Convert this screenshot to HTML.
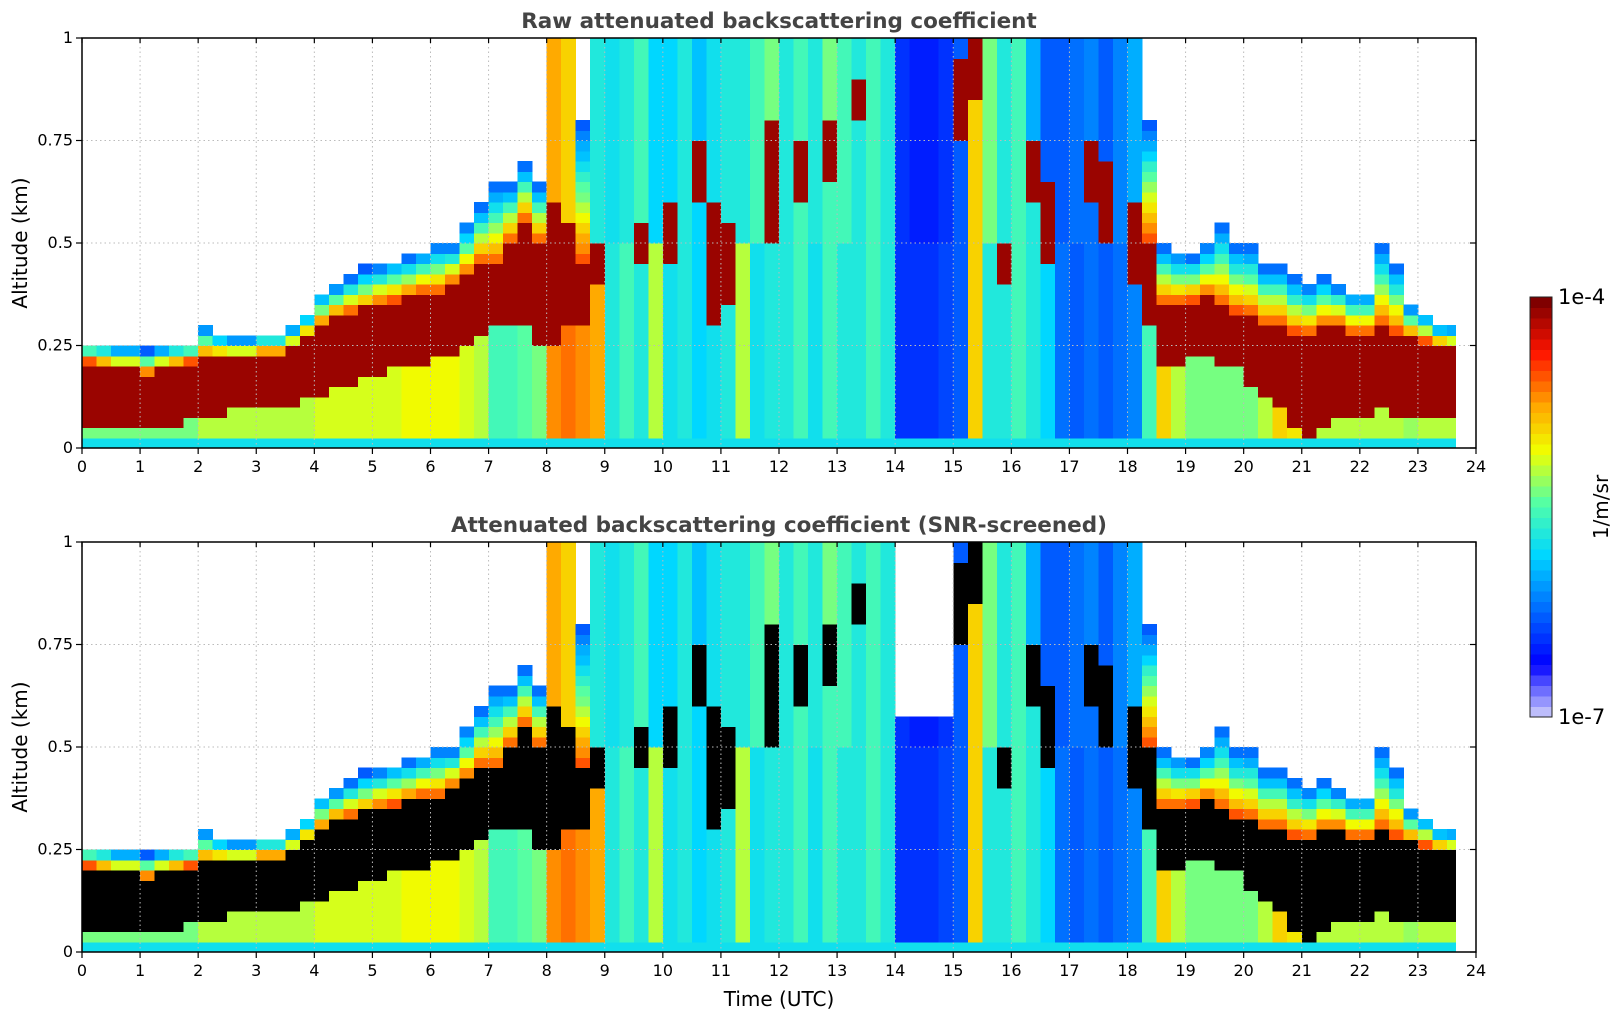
<!DOCTYPE html>
<html><head><meta charset="utf-8">
<style>
html,body{margin:0;padding:0;background:#fff;}
svg{display:block;font-family:"DejaVu Sans","Liberation Sans",sans-serif;}
</style></head>
<body>
<svg id="chart" width="1621" height="1020" viewBox="0 0 1621 1020" xmlns="http://www.w3.org/2000/svg">
<g id="p1"></g>
<g id="p2"></g>
<g id="cb"></g>
<text x="779" y="28" text-anchor="middle" font-size="21.5" font-weight="bold" fill="#444">Raw attenuated backscattering coefficient</text>
<text x="779" y="532" text-anchor="middle" font-size="21.5" font-weight="bold" fill="#444">Attenuated backscattering coefficient (SNR-screened)</text>
<text transform="translate(27,243) rotate(-90)" text-anchor="middle" font-size="20">Altitude (km)</text>
<text transform="translate(27,747) rotate(-90)" text-anchor="middle" font-size="20">Altitude (km)</text>
<text x="779" y="1006" text-anchor="middle" font-size="20">Time (UTC)</text>
<text x="1558" y="304" font-size="21">1e-4</text>
<text x="1558" y="724" font-size="21">1e-7</text>
<text transform="translate(1608,507) rotate(-90)" text-anchor="middle" font-size="20">1/m/sr</text>
</svg>
<script>
// time columns every 0.25 h from 0 to 23.5 (last extends to 23.65)
const times = Array.from({length:95},(_,i)=>i*0.25);
const layerTop = [.26,.26,.25,.25,.24,.25,.26,.26, .3,.28,.27,.27,.28,.28,.3,.33,
 .38,.4,.42,.44,.45,.46,.47,.48, .5,.5,.55,.6,.65,.65,.7,.65,
 1,1,.8,1,1,1,1,1, 1,1,1,1,1,1,1,1, 1,1,1,1,1,1,1,1,
 1,1,1,1,1,1,1,1, 1,1,1,1,1,1,1,1,
 1,.8,.5,.48,.47,.5,.55,.5, .5,.45,.45,.42,.4,.42,.4,.38,
 .38,.5,.45,.35,.33,.3,.3];
const coreLo = [.06,.05,.04,.04,.04,.05,.06,.07, .08,.08,.09,.09,.1,.1,.11,.12,
 .13,.15,.16,.18,.18,.19,.2,.2, .22,.22,.25,.28,.3,.3,.3,.25,
 .25,.3,.3,.4,0,0,.45,0, .45,0,.6,.3,.35,0,0,.5, 0,.6,0,.65,0,.8,0,0,
 0,0,0,0,.75,.85,0,.4, 0,.6,.45,0,0,.6,.5,0,
 .4,.3,.2,.2,.22,.22,.2,.2, .15,.12,.1,.05,.03,.05,.08,.08,
 .08,.1,.08,.07,.08,.08,.08];
const coreHi = [.21,.2,.19,.19,.18,.19,.2,.21, .22,.22,.22,.22,.23,.23,.24,.27,
 .3,.32,.33,.34,.35,.36,.37,.38, .38,.4,.42,.45,.45,.5,.55,.5,
 .6,.55,.45,.5,0,0,.55,0, .6,0,.75,.6,.55,0,0,.8, 0,.75,0,.8,0,.9,0,0,
 0,0,0,0,.95,1,0,.5, 0,.75,.65,0,0,.75,.7,0,
 .6,.5,.35,.35,.36,.37,.35,.33, .32,.3,.3,.28,.28,.3,.3,.28,
 .28,.3,.28,.27,.26,.25,.24];
const lowVal = [.55,.55,.55,.55,.55,.55,.55,.55, .6,.6,.6,.6,.6,.6,.6,.6,
 .62,.62,.62,.62,.63,.63,.64,.64, .65,.65,.62,.6,.5,.5,.52,.55,
 .78,.8,.78,.75,.45,.5,.45,.6, .42,.45,.4,.42,.45,.6,.42,.45, .45,.5,.42,.5,.45,.45,.5,.45,
 .2,.2,.2,.22,.25,.7,.45,.45, .5,.45,.4,.27,.25,.27,.25,.28,
 .3,.5,.7,.6,.55,.55,.55,.55, .55,.6,.7,.68,.65,.6,.6,.6,
 .6,.6,.6,.58,.6,.6,.6];
const colVal = [.5,.5,.5,.5,.5,.5,.5,.5, .5,.5,.5,.5,.5,.5,.5,.5,
 .5,.5,.5,.5,.5,.5,.5,.5, .5,.5,.5,.5,.5,.5,.5,.5,
 .75,.7,.5,.45,.42,.45,.5,.4, .4,.45,.38,.42,.45,.45,.5,.55, .45,.5,.45,.55,.5,.45,.5,.45,
 .2,.18,.18,.2,.25,.5,.55,.45, .5,.35,.25,.25,.28,.3,.25,.3,
 .35,.5,.5,.5,.5,.5,.5,.5, .5,.5,.5,.5,.5,.5,.5,.5,
 .5,.5,.5,.5,.5,.5,.5];
const xTicks = [0,1,2,3,4,5,6,7,8,9,10,11,12,13,14,15,16,17,18,19,20,21,22,23,24];
const yTicks = [0,0.25,0.5,0.75,1];
const yTickLabels = ["0","0.25","0.5","0.75","1"];

const NS="http://www.w3.org/2000/svg";
const X0=82,X1=1476;
const panels=[{g:'p1',top:38,bot:448,screen:false},{g:'p2',top:542,bot:952,screen:true}];
const stops=[[0,[228,228,250]],[0.1,[70,70,255]],[0.14,[0,0,255]],[0.4,[0,215,255]],[0.52,[80,255,170]],[0.645,[240,255,0]],[0.75,[255,170,0]],[0.88,[255,20,0]],[1,[128,0,0]]];
function cmap(v){v=Math.max(0,Math.min(1,Math.round(v*40)/40));
 for(let i=1;i<stops.length;i++){if(v<=stops[i][0]){const a=stops[i-1],b=stops[i],f=(v-a[0])/(b[0]-a[0]);
 return 'rgb('+a[1].map((c,k)=>Math.round(c+(b[1][k]-c)*f)).join(',')+')';}}return 'rgb(128,0,0)';}
function el(tag,attrs,parent){const e=document.createElementNS(NS,tag);for(const k in attrs)e.setAttribute(k,attrs[k]);parent.appendChild(e);return e;}
function cellVal(i,z){
 if(z<0.03) return 0.42;
 const lo=coreLo[i],hi=coreHi[i],top=layerTop[i];
 if(hi>0&&z>=lo&&z<=hi) return 0.97;
 if(hi>0&&z<lo) return lowVal[i];
 if(top<1){
  if(z>=top) return null;
  const base=hi>0?hi:0.03;
  const f=(z-base)/Math.max(0.01,top-base);
  return 0.85-0.62*f;
 }
 if(hi===0&&z<0.5) return lowVal[i];
 return colVal[i];
}
const nz=40;
panels.forEach(p=>{
 const g=document.getElementById(p.g);
 const sx=t=>X0+(t/24)*(X1-X0);
 const sy=z=>p.bot-z*(p.bot-p.top);
 const cells=el('g',{'shape-rendering':'crispEdges'},g);
 times.forEach((t,i)=>{
  const t2=i===times.length-1?23.65:t+0.25;
  for(let k=0;k<nz;k++){
   const z=k/nz;let v=cellVal(i,z+0.5/nz);
   if(v===null) continue;
   let fill=cmap(v);
   if(p.screen){ if(v>=0.93) fill='#000'; if(v<0.24&&z>0.55) continue; }
   const r=el('rect',{x:sx(t).toFixed(2),y:sy(z+1/nz).toFixed(2),width:(sx(t2)-sx(t)+0.5).toFixed(2),height:((p.bot-p.top)/nz+0.5).toFixed(2),fill:fill},cells);
   
   
  }
 });
 xTicks.forEach(t=>{ if(t>0&&t<24){const l=el('line',{x1:sx(t),x2:sx(t),y1:p.top,y2:p.bot,stroke:'#bbb','stroke-dasharray':'1.5,3','stroke-width':1},g);
  }});
 yTicks.forEach(z=>{ if(z>0&&z<1){const l=el('line',{x1:X0,x2:X1,y1:sy(z),y2:sy(z),stroke:'#bbb','stroke-dasharray':'1.5,3','stroke-width':1},g);
  }});
 const fr=el('rect',{x:X0,y:p.top,width:X1-X0,height:p.bot-p.top,fill:'none',stroke:'#000','stroke-width':1.5},g);
 
 xTicks.forEach(t=>{
  el('line',{x1:sx(t),x2:sx(t),y1:p.bot,y2:p.bot+6,stroke:'#000','stroke-width':1.2},g);
  el('line',{x1:sx(t),x2:sx(t),y1:p.top,y2:p.top+5,stroke:'#000','stroke-width':1.2},g);
  const tx=el('text',{x:sx(t),y:p.bot+24,'text-anchor':'middle','font-size':16},g);tx.textContent=t;
  
 });
 yTicks.forEach((z,j)=>{
  el('line',{x1:X0-6,x2:X0,y1:sy(z),y2:sy(z),stroke:'#000','stroke-width':1.2},g);
  el('line',{x1:X1-6,x2:X1,y1:sy(z),y2:sy(z),stroke:'#000','stroke-width':1.2},g);
  const tx=el('text',{x:X0-9,y:sy(z)+5,'text-anchor':'end','font-size':16},g);tx.textContent=yTickLabels[j];
  
 });
});
const cb=document.getElementById('cb');
const CB0=297,CB1=717,steps=40;
for(let s=0;s<steps;s++){
 const r=el('rect',{x:1530,y:(CB1-(s+1)*(CB1-CB0)/steps).toFixed(2),width:22,height:((CB1-CB0)/steps+0.6).toFixed(2),fill:cmap((s+0.5)/steps),'shape-rendering':'crispEdges'},cb);
 
}
el('rect',{x:1530,y:CB0,width:22,height:CB1-CB0,fill:'none',stroke:'#222','stroke-width':1},cb);
</script>
</body></html>
